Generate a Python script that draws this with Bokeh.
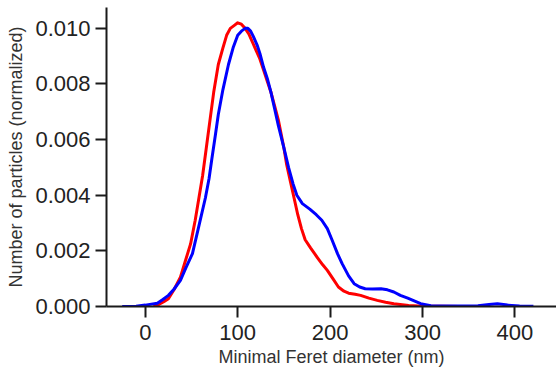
from bokeh.plotting import figure
from bokeh.models import FixedTicker, PrintfTickFormatter, Range1d
from bokeh.embed import file_html
from bokeh.resources import INLINE

# Red series (x in nm, y normalized count)
red_x = [9, 15, 20, 25, 31, 38, 43, 49, 54, 58, 62, 66, 70, 74, 79, 84, 88, 92, 96, 100,
         104, 108, 112, 116, 120, 124, 128, 132, 136, 140, 144, 150, 153, 157, 161, 165,
         169, 173, 179, 186, 192, 197, 203, 209, 215, 220, 227, 233, 242, 251, 260, 269,
         285, 300, 320, 340]
red_y = [0.0, 0.00008, 0.00017, 0.00028, 0.0006, 0.00105, 0.0016, 0.00225, 0.0031, 0.0039,
         0.0047, 0.0057, 0.0067, 0.0077, 0.0087, 0.0093, 0.00975, 0.0100, 0.0101, 0.0102,
         0.01015, 0.0100, 0.0098, 0.0095, 0.0092, 0.0089, 0.0085, 0.0081, 0.0077, 0.0072,
         0.0067, 0.0057, 0.0051, 0.0045, 0.0039, 0.0033,
         0.0028, 0.0024, 0.0021, 0.00177, 0.0015, 0.0013, 0.0010, 0.0007, 0.00055, 0.00048,
         0.00044, 0.0004, 0.0003, 0.00022, 0.00015, 0.0001,
         0.00004, 0.00001, 0.000005, 0.0]

# Blue series
blue_x = [-25, -10, 0, 13, 19, 25, 31, 38, 44, 51, 58, 65, 69, 72, 76, 79, 84, 90, 95,
          100, 104, 108, 111, 114, 117, 121, 124, 128, 132, 136, 140, 144, 150, 155, 160,
          164, 170, 178, 185, 191, 197, 202, 208, 213, 220, 226, 232, 238, 246, 255, 262,
          269, 276, 284, 298, 309, 330, 360, 372, 381, 392, 405, 420]
blue_y = [0.0, 0.00001, 0.00005, 0.00012, 0.00025, 0.0004, 0.00062, 0.00094, 0.0014,
          0.0019, 0.0029, 0.0039, 0.0046, 0.0053, 0.0062, 0.0069, 0.0078, 0.0087, 0.0093,
          0.00975, 0.0099, 0.0100, 0.0100, 0.0099, 0.0097, 0.0094, 0.0091, 0.0086, 0.0082,
          0.0077, 0.0071, 0.0065, 0.0057, 0.0050, 0.0044,
          0.0040, 0.0037, 0.0035, 0.0033, 0.0031, 0.0028, 0.0024, 0.0019, 0.00154, 0.0011,
          0.00082, 0.0007, 0.00064, 0.00063, 0.00064, 0.0006,
          0.00052, 0.0004, 0.0003, 0.0001, 0.00003, 0.00002, 0.00003, 0.00007, 0.0001,
          0.00005, 0.00002, 0.00001]

x_ticks = [0, 100, 200, 300, 400]
y_ticks = [0.0, 0.002, 0.004, 0.006, 0.008, 0.010]

FONT = "Liberation Sans"

p = figure(width=556, height=374, output_backend="svg", toolbar_location=None,
           x_range=Range1d(-42, 445), y_range=Range1d(0, 0.01075),
           min_border_left=106, min_border_right=0, min_border_top=7, min_border_bottom=68)

p.line(red_x, red_y, line_color="#ff0000", line_width=3, line_join="round")
p.line(blue_x, blue_y, line_color="#0000ff", line_width=3, line_join="round")

p.xgrid.visible = False
p.ygrid.visible = False
p.outline_line_color = None

for ax in (p.xaxis[0], p.yaxis[0]):
    ax.axis_line_color = "#1a1a1a"
    ax.axis_line_width = 2
    ax.major_tick_line_color = "#1a1a1a"
    ax.major_tick_line_width = 2
    ax.major_tick_out = 11
    ax.major_tick_in = 0
    ax.minor_tick_line_color = None
    ax.major_label_text_font = FONT
    ax.major_label_text_font_size = "22px"
    ax.major_label_text_color = "#222222"
    ax.axis_label_text_font = FONT
    ax.axis_label_text_font_size = "18px"
    ax.axis_label_text_font_style = "normal"
    ax.axis_label_text_color = "#333333"

p.xaxis.ticker = FixedTicker(ticks=x_ticks)
p.yaxis.ticker = FixedTicker(ticks=y_ticks)
p.yaxis.formatter = PrintfTickFormatter(format="%.3f")
p.xaxis.axis_label = "Minimal Feret diameter (nm)"
p.yaxis.axis_label = "Number of particles (normalized)"
p.xaxis.major_label_standoff = 7
p.yaxis.major_label_standoff = 5
p.xaxis.axis_label_standoff = 4
p.yaxis.axis_label_standoff = 6

open("out.html", "w").write(file_html(p, INLINE))
